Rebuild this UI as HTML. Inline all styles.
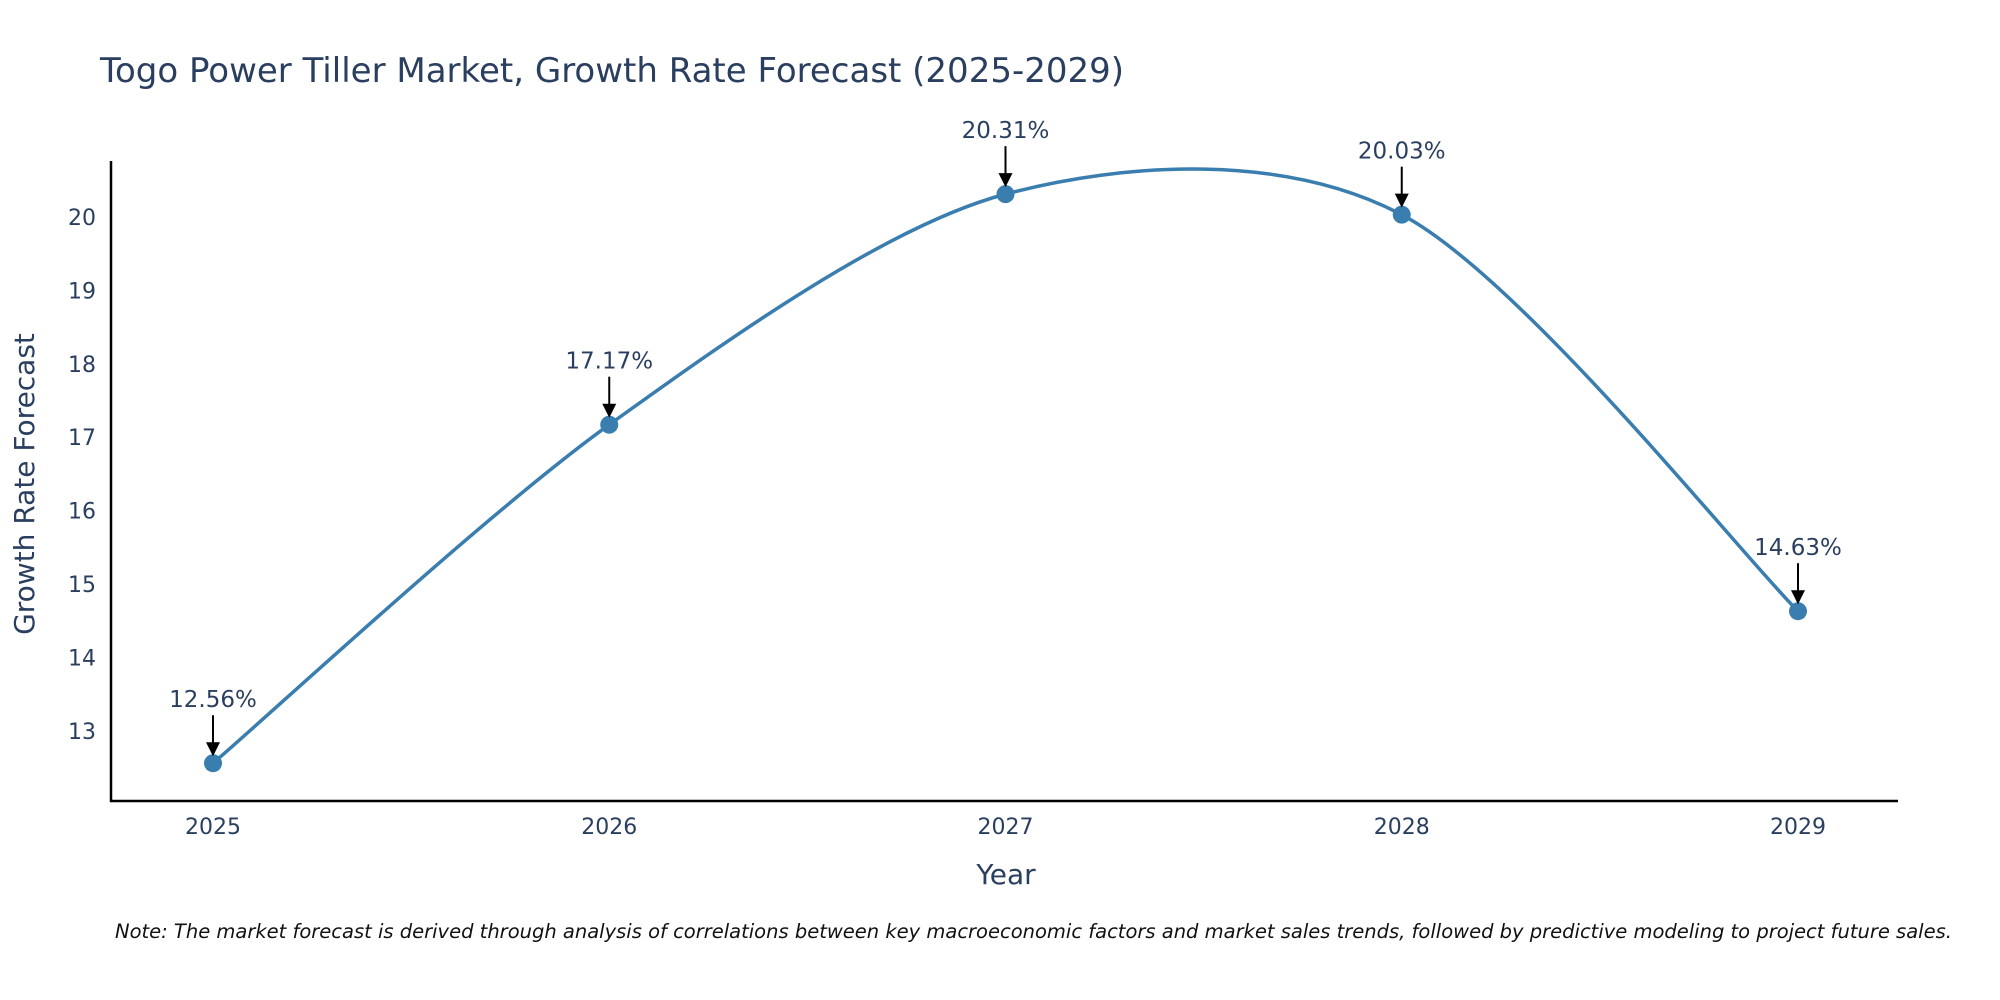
<!DOCTYPE html>
<html><head><meta charset="utf-8">
<style>
body{margin:0;background:#fff;}
svg{display:block;font-family:"DejaVu Sans","Liberation Sans",sans-serif;}
</style></head>
<body>
<svg id="chart" width="2000" height="1000" viewBox="0 0 2000 1000">
<text x="100" y="82" font-size="34" fill="#2a3f5f">Togo Power Tiller Market, Growth Rate Forecast (2025-2029)</text>
<g id="yticks"></g>
<g id="xticks"></g>
<line x1="111" y1="161" x2="111" y2="802" stroke="#000" stroke-width="2.5"/>
<line x1="110" y1="801" x2="1898" y2="801" stroke="#000" stroke-width="2.5"/>
<text x="34" y="484" font-size="28" fill="#2a3f5f" text-anchor="middle" transform="rotate(-90 34 484)">Growth Rate Forecast</text>
<text x="1006" y="884" font-size="28" fill="#2a3f5f" text-anchor="middle">Year</text>
<g id="series"></g>
<g id="annots"></g>
<text x="115" y="938" font-size="19.5" font-style="italic" fill="#111">Note: The market forecast is derived through analysis of correlations between key macroeconomic factors and market sales trends, followed by predictive modeling to project future sales.</text>
</svg>
<script>
const years = ["2025","2026","2027","2028","2029"];
const values = [12.56, 17.17, 20.31, 20.03, 14.63];
const labels = ["12.56%","17.17%","20.31%","20.03%","14.63%"];
const yTicks = [13,14,15,16,17,18,19,20];
const NS="http://www.w3.org/2000/svg";
function xS(i){return 213 + i*(1798-213)/(years.length-1);}
function yS(v){return 730.9 - (v-13)*73.43;}
function mk(t,a,p){const e=document.createElementNS(NS,t);for(const k in a)e.setAttribute(k,a[k]);p.appendChild(e);return e;}
const yt=document.getElementById('yticks');
yTicks.forEach(v=>{const t=mk('text',{x:96,y:yS(v)+8,'font-size':22,fill:'#2a3f5f','text-anchor':'end'},yt);


t.textContent=v;});
const xt=document.getElementById('xticks');
years.forEach((y,i)=>{const t=mk('text',{x:xS(i),y:834,'font-size':22,fill:'#2a3f5f','text-anchor':'middle'},xt);


t.textContent=y;});
const pts=values.map((v,i)=>[xS(i),yS(v)]);
let d=`M${pts[0][0]},${pts[0][1]}`;
for(let i=0;i<pts.length-1;i++){const p0=pts[Math.max(i-1,0)],p1=pts[i],p2=pts[i+1],p3=pts[Math.min(i+2,pts.length-1)];const s=1/6*0.9;
d+=` C${p1[0]+(p2[0]-p0[0])*s},${p1[1]+(p2[1]-p0[1])*s} ${p2[0]-(p3[0]-p1[0])*s},${p2[1]-(p3[1]-p1[1])*s} ${p2[0]},${p2[1]}`;}
const sg=document.getElementById('series');
const ln=mk('path',{d:d,fill:'none',stroke:'#3a7daf','stroke-width':3.5},sg);


const an=document.getElementById('annots');
pts.forEach((p,i)=>{const c=mk('circle',{cx:p[0],cy:p[1],r:9,fill:'#3a7daf'},sg);


const l=mk('line',{x1:p[0],y1:p[1]-48,x2:p[0],y2:p[1]-18,stroke:'#000','stroke-width':2},an);


const h=mk('polygon',{points:`${p[0]-7},${p[1]-21} ${p[0]+7},${p[1]-21} ${p[0]},${p[1]-7}`,fill:'#000'},an);


const t=mk('text',{x:p[0],y:p[1]-56,'font-size':23,fill:'#2a3f5f','text-anchor':'middle'},an);


t.textContent=labels[i];});
</script>
</body></html>
